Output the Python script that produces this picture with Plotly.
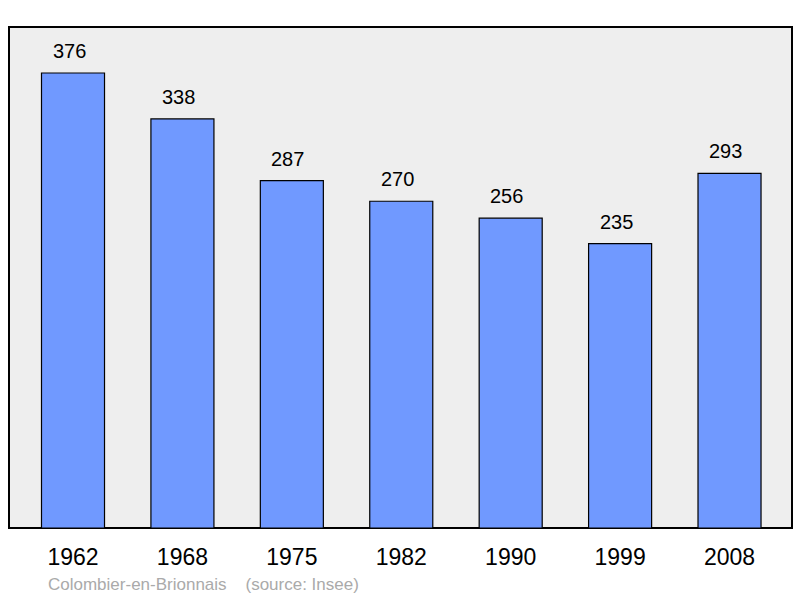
import plotly.graph_objects as go

years = ["1962", "1968", "1975", "1982", "1990", "1999", "2008"]
population = [376, 338, 287, 270, 256, 235, 293]
commune = "Colombier-en-Brionnais"
source = "(source: Insee)"

fig = go.Figure()
fig.add_trace(go.Bar(
    x=list(range(len(years))), y=population, width=0.576,
    marker=dict(color="#7099ff", line=dict(color="#000000", width=1.2)),
    hoverinfo="skip",
))
for i, v in enumerate(population):
    fig.add_annotation(x=i, y=v, text=str(v), showarrow=False, yanchor="bottom",
                       yshift=9, xshift=-4,
                       font=dict(family="Liberation Sans, Arial", size=20, color="#000"))

fig.add_shape(type="rect", xref="paper", yref="paper", x0=0, x1=1, y0=0, y1=1,
              line=dict(color="#000", width=2), fillcolor="#eeeeee", layer="below")

fig.add_annotation(xref="paper", yref="paper", x=(46 - 9) / 783, y=-(584 - 528) / 501,
                   xanchor="left", yanchor="middle", showarrow=False,
                   text=commune + "\u00a0\u00a0\u00a0\u00a0" + source,
                   font=dict(family="Liberation Sans, Arial", size=17, color="#aaaaaa"))

fig.update_layout(
    width=800, height=598,
    margin=dict(l=9, r=8, t=27, b=70),
    paper_bgcolor="#ffffff", plot_bgcolor="rgba(0,0,0,0)",
    showlegend=False,
    xaxis=dict(range=[-0.585, 6.571], tickmode="array", tickvals=list(range(len(years))),
               ticktext=years, showgrid=False, zeroline=False, showline=False, ticks="",
               ticklabelstandoff=13,
               tickfont=dict(family="Liberation Sans, Arial", size=23, color="#000"), fixedrange=True),
    yaxis=dict(range=[0, 414], showgrid=False, zeroline=False, showticklabels=False,
               showline=False, fixedrange=True),
)
fig.write_html("out.html", config={"displayModeBar": False},
               post_script="document.body.style.margin='0';")
